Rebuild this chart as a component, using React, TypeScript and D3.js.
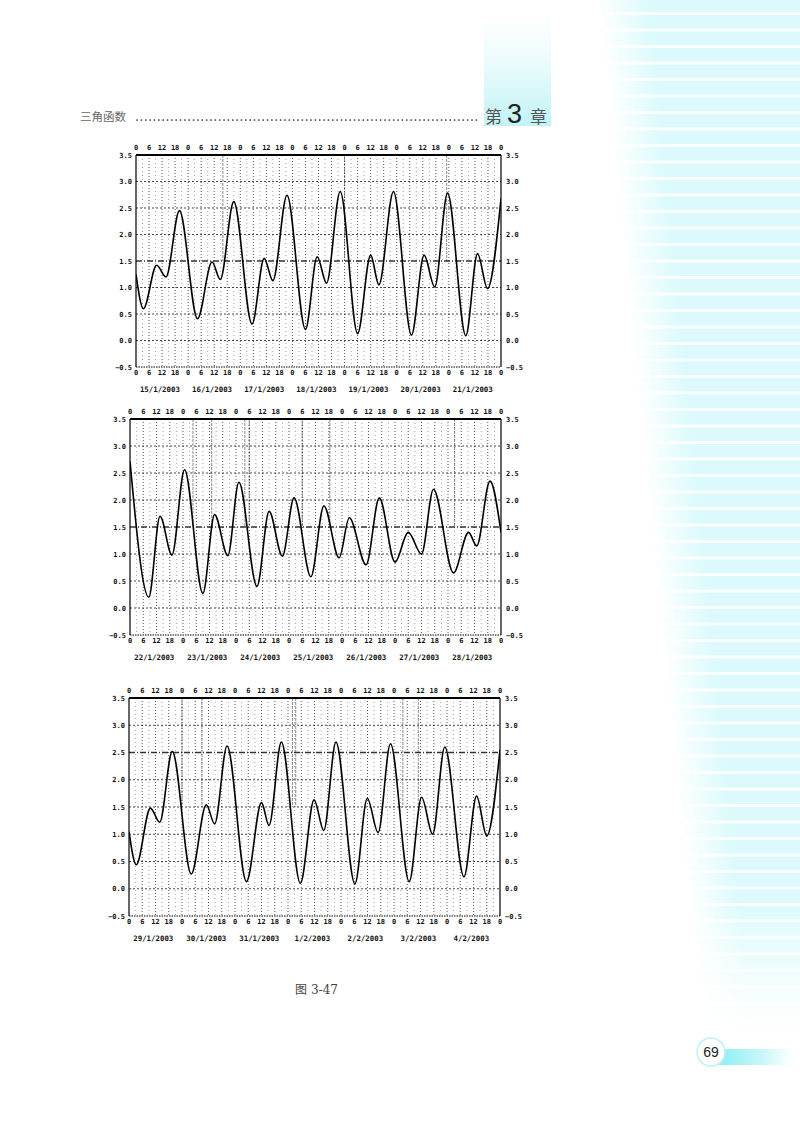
import React from 'react';
import * as d3 from 'd3';

// ---------- DATA ----------
const Y_TICKS = [3.5, 3.0, 2.5, 2.0, 1.5, 1.0, 0.5, 0.0, -0.5];
const HOUR_TICKS = [0, 6, 12, 18, 24, 30, 36, 42, 48, 54, 60, 66, 72, 78, 84, 90, 96, 102, 108, 114, 120, 126, 132, 138, 144, 150, 156, 162, 168];

const DATES_1 = ['15/1/2003', '16/1/2003', '17/1/2003', '18/1/2003', '19/1/2003', '20/1/2003', '21/1/2003'];
const DATES_2 = ['22/1/2003', '23/1/2003', '24/1/2003', '25/1/2003', '26/1/2003', '27/1/2003', '28/1/2003'];
const DATES_3 = ['29/1/2003', '30/1/2003', '31/1/2003', '1/2/2003', '2/2/2003', '3/2/2003', '4/2/2003'];

// hours since start of week, water height (m)
const HOURS_1 = [0, 3.4, 9.5, 13.8, 20, 28.3, 35, 38.8, 45, 53.4, 59, 63, 69.5, 78, 83.4, 87.7, 94, 102, 108, 111.8, 118.5, 126.8, 132.6, 137.5, 143.4, 151.8, 157.2, 161.8, 168];
const TIDE_1 = [1.25, 0.6, 1.42, 1.2, 2.45, 0.41, 1.48, 1.15, 2.62, 0.31, 1.55, 1.13, 2.74, 0.21, 1.58, 1.08, 2.81, 0.13, 1.61, 1.05, 2.81, 0.1, 1.61, 1.01, 2.78, 0.09, 1.64, 0.98, 2.68];

const HOURS_2 = [0, 8.5, 13.6, 19, 24.7, 33, 38.3, 44.3, 49.3, 57.5, 63, 69, 74.3, 81.9, 87.8, 94.7, 99.3, 106.9, 112.9, 120, 126, 132, 137.4, 146.5, 153.3, 157, 163, 168];
const TIDE_2 = [2.72, 0.2, 1.7, 0.98, 2.56, 0.27, 1.73, 0.97, 2.33, 0.4, 1.79, 0.96, 2.04, 0.58, 1.89, 0.93, 1.67, 0.8, 2.04, 0.85, 1.4, 1.0, 2.2, 0.65, 1.4, 1.15, 2.35, 1.4];

const HOURS_3 = [0, 3.3, 9.7, 13.9, 19.6, 28.2, 35, 38.8, 44.4, 53.2, 60, 63.4, 69, 77.6, 83.8, 88.2, 93.7, 102.3, 107.9, 112.8, 118.4, 126.9, 132.5, 137.5, 143, 151.7, 157.4, 162, 168];
const TIDE_3 = [1.05, 0.44, 1.48, 1.22, 2.52, 0.27, 1.54, 1.19, 2.62, 0.13, 1.58, 1.16, 2.69, 0.1, 1.63, 1.07, 2.69, 0.09, 1.66, 1.03, 2.66, 0.13, 1.68, 1.0, 2.6, 0.22, 1.7, 0.97, 2.55];

// ---------- LAYOUT / STYLE ----------
const CHARTS = [
  { left: 136, right: 501, top: 155, bottom: 367, hours: HOURS_1, tide: TIDE_1, dates: DATES_1, strong: 1.5, heavy: [40, 96, 143] },
  { left: 130, right: 501, top: 419, bottom: 635, hours: HOURS_2, tide: TIDE_2, dates: DATES_2, strong: 1.5, heavy: [28.5, 37, 52, 54, 78, 90.5, 147] },
  { left: 129, right: 500, top: 698, bottom: 916, hours: HOURS_3, tide: TIDE_3, dates: DATES_3, strong: 2.5, heavy: [24, 33, 74, 75.5, 124, 131] },
];

const MONO = "'DejaVu Sans Mono', 'Liberation Mono', monospace";
const fmt = d3.format('.1f');

function TideChart({ c, idx }: { c: any; idx: number }) {
  const x = d3.scaleLinear().domain([0, 168]).range([c.left, c.right]);
  const y = d3.scaleLinear().domain([-0.5, 3.5]).range([c.bottom, c.top]);
  const pts: [number, number][] = c.hours.map((h: number, i: number) => [h, c.tide[i]]);
  const line = d3.line<[number, number]>().x(d => x(d[0])).y(d => y(d[1])).curve(d3.curveMonotoneX);
  const vGrid = d3.range(3, 168, 3);
  const clipId = `clip${idx}`;
  return (
    <g>
      <defs>
        <clipPath id={clipId}>
          <rect x={c.left} y={c.top} width={c.right - c.left} height={c.bottom - c.top} />
        </clipPath>
      </defs>
      {vGrid.map(h => (
        <line key={'v' + h} x1={x(h)} x2={x(h)} y1={c.top} y2={c.bottom}
          stroke="#222" strokeWidth={h % 6 === 0 ? 0.9 : 0.7}
          strokeDasharray={h % 6 === 0 ? '1,2' : '1,3'} opacity={h % 6 === 0 ? 0.85 : 0.6} />
      ))}
      {c.heavy.map((h: number) => (
        <line key={'hv' + h} x1={x(h)} x2={x(h)} y1={c.top} y2={c.top + (c.bottom - c.top) * 0.5}
          stroke="#111" strokeWidth={0.9} strokeDasharray="3,1" opacity={0.55} />
      ))}
      {Y_TICKS.slice(1, -1).map(v => (
        <line key={'h' + v} x1={c.left} x2={c.right} y1={y(v)} y2={y(v)}
          stroke="#111" strokeWidth={v === c.strong ? 1.3 : 0.9}
          strokeDasharray={v === c.strong ? '6,2,1,2' : '2,2'} opacity={0.85} />
      ))}
      <line x1={c.left} x2={c.right} y1={c.top} y2={c.top} stroke="#000" strokeWidth={1.8} />
      <line x1={c.left} x2={c.right} y1={c.bottom} y2={c.bottom} stroke="#000" strokeWidth={1} strokeDasharray="1.5,1" />
      <line x1={c.left} x2={c.left} y1={c.top} y2={c.bottom} stroke="#000" strokeWidth={1.2} />
      <line x1={c.right} x2={c.right} y1={c.top} y2={c.bottom} stroke="#000" strokeWidth={1.2} />
      <path d={line(pts) || ''} fill="none" stroke="#000" strokeWidth={1.6} clipPath={`url(#${clipId})`} />
      {Y_TICKS.map(v => (
        <g key={'yl' + v} fontFamily={MONO} fontWeight="bold" fontSize={7} fill="#111">
          <text x={c.left - 4} y={y(v) + 2.5} textAnchor="end">{fmt(v)}</text>
          <text x={c.right + 5} y={y(v) + 2.5} textAnchor="start">{fmt(v)}</text>
        </g>
      ))}
      {HOUR_TICKS.map(h => (
        <g key={'hl' + h} fontFamily={MONO} fontWeight="bold" fontSize={7} fill="#111" textAnchor="middle">
          <text x={x(h)} y={c.top - 5}>{h % 24}</text>
          <text x={x(h)} y={c.bottom + 8}>{h % 24}</text>
        </g>
      ))}
      {c.dates.map((d: string, i: number) => (
        <text key={'d' + d} x={x(24 * i + 11)} y={c.bottom + 25} textAnchor="middle"
          fontFamily={MONO} fontWeight="bold" fontSize={7.4} fill="#111">{d}</text>
      ))}
    </g>
  );
}

export default function App() {
  const stripeYs = d3.range(0, 1060, 16.5);
  return (
    <svg width={800} height={1127} viewBox="0 0 800 1127"
      style={{ position: 'absolute', left: 0, top: 0, background: '#fff' }}>
      <defs>
        <linearGradient id="fadeL" gradientUnits="userSpaceOnUse" x1={598} y1={0} x2={648} y2={-5}>
          <stop offset="0" stopColor="#000" />
          <stop offset="1" stopColor="#fff" />
        </linearGradient>
        <linearGradient id="fadeB" gradientUnits="userSpaceOnUse" x1={0} y1={900} x2={0} y2={1030}>
          <stop offset="0" stopColor="#fff" />
          <stop offset="1" stopColor="#000" />
        </linearGradient>
        <mask id="maskL" maskUnits="userSpaceOnUse" x={0} y={0} width={800} height={1127}>
          <rect x={0} y={0} width={800} height={1127} fill="url(#fadeL)" />
        </mask>
        <mask id="maskB" maskUnits="userSpaceOnUse" x={0} y={0} width={800} height={1127}>
          <rect x={0} y={0} width={800} height={1127} fill="url(#fadeB)" />
        </mask>
        <linearGradient id="boxG" x1="0" y1="0" x2="0" y2="1">
          <stop offset="0" stopColor="#ffffff" />
          <stop offset="0.45" stopColor="#e8fbfc" />
          <stop offset="1" stopColor="#c2f3f6" />
        </linearGradient>
        <linearGradient id="tabG" x1="0" y1="0" x2="1" y2="0">
          <stop offset="0" stopColor="#8aeef2" />
          <stop offset="0.6" stopColor="#c6f7f9" />
          <stop offset="1" stopColor="#ffffff" />
        </linearGradient>
      </defs>

      {/* right decorative stripes */}
      <g mask="url(#maskB)">
        <g mask="url(#maskL)">
          <rect x={560} y={0} width={240} height={1060} fill="#dcfafc" />
          {stripeYs.map(s => (
            <rect key={'s' + s} x={560} y={s + 12} width={240} height={3} fill="#fff" opacity={0.85} />
          ))}
        </g>
      </g>

      {/* header */}
      <rect x={484} y={18} width={67} height={108} fill="url(#boxG)" />
      <text x={80} y={121} fontFamily="'Noto Sans CJK SC', sans-serif" fontSize={11.5} fill="#666">三角函数</text>
      <line x1={137} x2={477} y1={120} y2={120} stroke="#333" strokeWidth={1.7} strokeDasharray="0.1,4.25" strokeLinecap="round" />
      <text x={485} y={123} fontFamily="'Noto Sans CJK SC', sans-serif" fontSize={17} fill="#555">第</text>
      <text x={507} y={123} fontFamily="'Liberation Sans', Arial, sans-serif" fontSize={27} fill="#222">3</text>
      <text x={530} y={123} fontFamily="'Noto Sans CJK SC', sans-serif" fontSize={17} fill="#555">章</text>

      {CHARTS.map((c, i) => <TideChart key={i} c={c} idx={i} />)}

      {/* caption */}
      <text x={295} y={994} fontSize={12} fill="#444">
        <tspan fontFamily="'Noto Sans CJK SC', sans-serif">图</tspan>
        <tspan fontFamily="'DejaVu Serif', 'Liberation Serif', serif" dx={4}>3-47</tspan>
      </text>

      {/* page number tab */}
      <rect x={716} y={1049} width={76} height={16} fill="url(#tabG)" />
      <circle cx={711} cy={1052} r={14} fill="#fff" stroke="#bff2f4" strokeWidth={1.5} />
      <text x={711} y={1057} textAnchor="middle" fontFamily="'Liberation Sans', Arial, sans-serif" fontSize={14} fill="#222">69</text>
    </svg>
  );
}
